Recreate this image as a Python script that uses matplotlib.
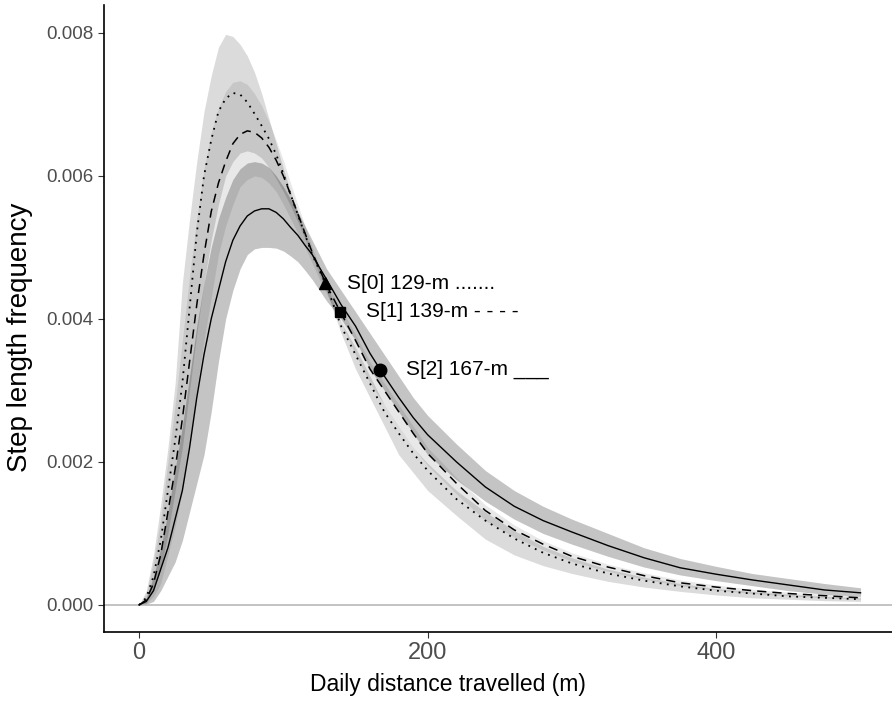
import matplotlib
matplotlib.use('Agg')
import matplotlib.pyplot as plt

plt.rcParams['font.family'] = ['Liberation Sans', 'DejaVu Sans']

# distance grid (m)
dist = [0, 5, 10, 15, 20, 25, 30, 35, 40, 45, 50, 55, 60, 65, 70, 75, 80, 85, 90, 95,
        100, 105, 110, 115, 120, 125, 130, 140, 150, 160, 170, 180, 190, 200, 220, 240,
        260, 280, 300, 325, 350, 375, 400, 425, 450, 475, 500]

# S[0] dotted curve + band
s0 = [0, 0.0001, 0.0004, 0.0009, 0.0016, 0.0023, 0.0031, 0.00415, 0.0052, 0.0060, 0.0065,
      0.0069, 0.00708, 0.00716, 0.00714, 0.00703, 0.00687, 0.0067, 0.00652, 0.0063,
      0.00603, 0.00574, 0.00546, 0.00518, 0.0049, 0.00468, 0.00446, 0.0039, 0.0035,
      0.0031, 0.0027, 0.0024, 0.00212, 0.00188, 0.00148, 0.00118, 0.00093, 0.00073,
      0.00058, 0.00044, 0.00034, 0.00026, 0.0002, 0.00016, 0.00012, 0.0001, 0.00008]
s0_hi = [0, 0.0002, 0.0007, 0.0014, 0.0022, 0.0031, 0.0045, 0.0054, 0.0062, 0.0069, 0.0074,
         0.0078, 0.00798, 0.00795, 0.00784, 0.00768, 0.00745, 0.00715, 0.0068, 0.00645,
         0.0061, 0.00578, 0.0055, 0.0052, 0.00492, 0.0047, 0.00448, 0.00395, 0.0036,
         0.0032, 0.0028, 0.0025, 0.0022, 0.00198, 0.0016, 0.0013, 0.00104, 0.00082,
         0.00066, 0.0005, 0.00039, 0.0003, 0.00023, 0.00019, 0.00015, 0.00012, 0.0001]
s0_lo = [0, 0.00003, 0.0002, 0.0005, 0.001, 0.0016, 0.0022, 0.003, 0.0038, 0.0045, 0.0051,
         0.0056, 0.006, 0.0062, 0.00632, 0.00635, 0.00632, 0.00625, 0.00612, 0.00596,
         0.00578, 0.00558, 0.00536, 0.00512, 0.00488, 0.00462, 0.00438, 0.0038, 0.0033,
         0.0029, 0.0025, 0.0021, 0.00185, 0.0016, 0.00125, 0.00092, 0.0007, 0.00055,
         0.00044, 0.00033, 0.00025, 0.00019, 0.00014, 0.0001, 0.00008, 0.00006, 0.00005]

# S[1] dashed curve + band
s1 = [0, 0.00007, 0.0003, 0.0007, 0.0013, 0.0019, 0.0026, 0.0034, 0.0042, 0.0049, 0.0055,
      0.0059, 0.0062, 0.00645, 0.00658, 0.00663, 0.00661, 0.00653, 0.0064, 0.00622,
      0.006, 0.00574, 0.00547, 0.0052, 0.00493, 0.0047, 0.00447, 0.00408, 0.0037,
      0.0033, 0.003, 0.0027, 0.0024, 0.00212, 0.0017, 0.00132, 0.00105, 0.00085,
      0.00068, 0.00053, 0.00041, 0.00031, 0.00025, 0.0002, 0.00016, 0.00013, 0.0001]
s1_hi = [0, 0.00015, 0.0006, 0.0012, 0.002, 0.0028, 0.0037, 0.0046, 0.0054, 0.0061, 0.0066,
         0.00695, 0.00718, 0.00731, 0.00733, 0.00728, 0.00715, 0.00698, 0.00676, 0.0065,
         0.00622, 0.0059, 0.0056, 0.0053, 0.005, 0.00474, 0.0045, 0.00415, 0.00378,
         0.0034, 0.0031, 0.0028, 0.0025, 0.0022, 0.00178, 0.0014, 0.00112, 0.0009,
         0.00073, 0.00057, 0.00045, 0.00035, 0.00028, 0.00022, 0.00018, 0.00015, 0.00012]
s1_lo = [0, 0.00002, 0.00012, 0.0003, 0.0007, 0.0011, 0.0016, 0.0023, 0.003, 0.0037, 0.0043,
         0.0049, 0.0053, 0.0056, 0.00585, 0.00595, 0.006, 0.00598, 0.0059, 0.00578,
         0.0056, 0.0054, 0.0052, 0.005, 0.00478, 0.00455, 0.00435, 0.00395, 0.0035,
         0.0031, 0.0028, 0.0025, 0.0022, 0.00195, 0.00155, 0.00118, 0.00095, 0.00077,
         0.00061, 0.00047, 0.00036, 0.00027, 0.00021, 0.00016, 0.00013, 0.0001, 0.00008]

# S[2] solid curve + band
s2 = [0, 0.00005, 0.0002, 0.0005, 0.0008, 0.0012, 0.0016, 0.0022, 0.0029, 0.0035, 0.004,
      0.0044, 0.0048, 0.0051, 0.0053, 0.00544, 0.00551, 0.00554, 0.00554, 0.00549,
      0.0054, 0.00528, 0.00517, 0.00503, 0.0049, 0.00472, 0.00455, 0.0042, 0.0039,
      0.00352, 0.0032, 0.0029, 0.00262, 0.00238, 0.002, 0.00165, 0.00138, 0.00118,
      0.00102, 0.00083, 0.00066, 0.00052, 0.00043, 0.00035, 0.00028, 0.00021, 0.00017]
s2_hi = [0, 0.0001, 0.0004, 0.0008, 0.0013, 0.0019, 0.0025, 0.0032, 0.0039, 0.0045, 0.005,
         0.0054, 0.0057, 0.00595, 0.0061, 0.00618, 0.0062, 0.00618, 0.00612, 0.006,
         0.00585, 0.00568, 0.0055, 0.0053, 0.0051, 0.0049, 0.0047, 0.0044, 0.0041,
         0.0038, 0.0035, 0.0032, 0.0029, 0.00265, 0.00225, 0.00188, 0.0016, 0.00138,
         0.0012, 0.001, 0.0008, 0.00065, 0.00054, 0.00044, 0.00037, 0.0003, 0.00024]
s2_lo = [0, 0.00001, 0.00005, 0.0002, 0.0004, 0.0006, 0.0009, 0.0013, 0.0017, 0.0021, 0.0027,
         0.0034, 0.004, 0.0044, 0.0047, 0.0049, 0.00498, 0.005, 0.005, 0.00499,
         0.00495, 0.00488, 0.0048, 0.00468, 0.00455, 0.0044, 0.00425, 0.004, 0.0037,
         0.0033, 0.003, 0.0027, 0.0024, 0.0021, 0.00175, 0.00145, 0.0012, 0.001,
         0.00085, 0.00068, 0.00053, 0.00042, 0.00034, 0.00027, 0.0002, 0.00015, 0.00012]

# mean step lengths and labels
means = [129, 139, 167]
mean_dens = [0.0045, 0.0041, 0.00329]
labels = ['S[0] 129-m .......', 'S[1] 139-m - - - -', 'S[2] 167-m ___']

fig = plt.figure(figsize=(8.92, 7.10), dpi=100)
ax = fig.add_axes([104 / 892, 78 / 710, 788 / 892, 627 / 710])

# confidence bands
ax.fill_between(dist, s0_lo, s0_hi, color='black', alpha=0.14, linewidth=0)
ax.fill_between(dist, s1_lo, s1_hi, color='black', alpha=0.09, linewidth=0)
ax.fill_between(dist, s2_lo, s2_hi, color='black', alpha=0.23, linewidth=0)

ax.axhline(0, color='#b3b3b3', linewidth=1.1, zorder=1)

ax.plot(dist, s0, color='black', linewidth=1.3, linestyle=(0, (1, 3)))
ax.plot(dist, s1, color='black', linewidth=1.1, linestyle=(0, (6, 4)))
ax.plot(dist, s2, color='black', linewidth=1.0)

mk = ['^', 's', 'o']
ms = [9, 7, 9]
for i in range(3):
    ax.plot(means[i], mean_dens[i], marker=mk[i], markersize=ms[i], color='black')

ax.text(means[0] + 15, mean_dens[0], labels[0], fontsize=15, va='center')
ax.text(means[1] + 18, mean_dens[1], labels[1], fontsize=15, va='center')
ax.text(means[2] + 18, mean_dens[2], labels[2], fontsize=15, va='center')

ax.set_xlim(-24.3, 521.8)
ax.set_ylim(-0.000378, 0.00839)
ax.set_xticks([0, 200, 400])
ax.set_yticks([0, 0.002, 0.004, 0.006, 0.008])
ax.set_yticklabels(['0.000', '0.002', '0.004', '0.006', '0.008'])

for s in ['top', 'right']:
    ax.spines[s].set_visible(False)
for s in ['left', 'bottom']:
    ax.spines[s].set_linewidth(1.2)

ax.tick_params(axis='both', direction='out', length=4, color='#333333', labelcolor='#4d4d4d')
ax.tick_params(axis='y', labelsize=13.5)
ax.tick_params(axis='x', labelsize=17)

ax.set_xlabel('Daily distance travelled (m)', fontsize=16.5)
ax.set_ylabel('Step length frequency', fontsize=20)
ax.xaxis.set_label_coords((448 - 104) / 788, -0.066)
ax.yaxis.set_label_coords(-0.09, 0.47)

fig.savefig('out.png', dpi=100)
